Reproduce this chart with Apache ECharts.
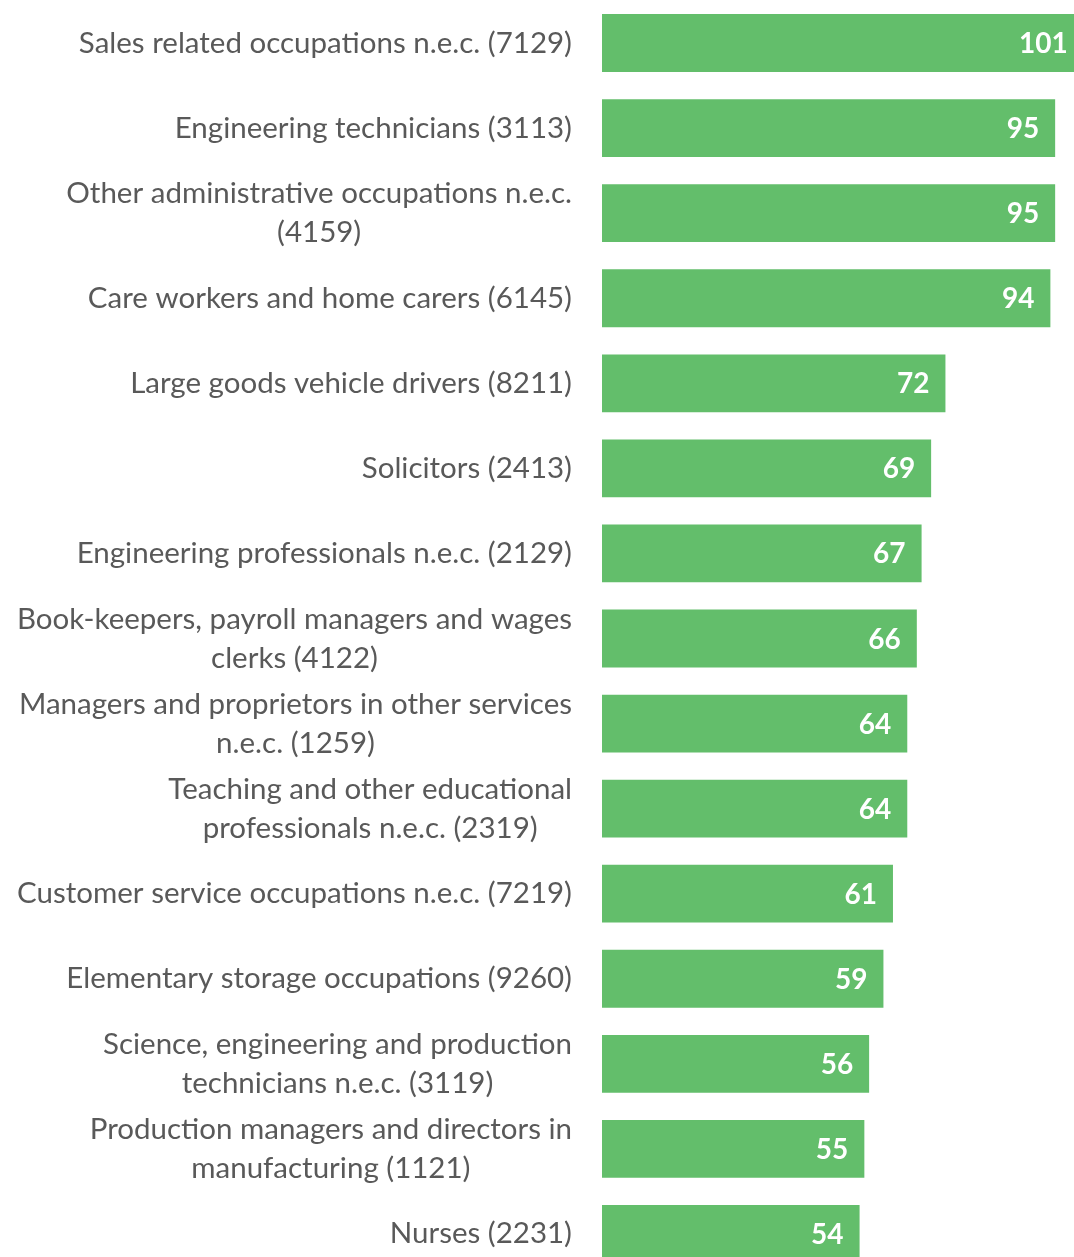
<!DOCTYPE html>
<html>
<head>
<meta charset="utf-8">
<script src="https://cdn.jsdelivr.net/npm/echarts@6/dist/echarts.min.js"></script>
<style>
html,body{margin:0;padding:0;background:#fff;}
#chart{width:1074px;height:1257px;}
</style>
</head>
<body>
<div id="chart"></div>
<script>
const categories = [
  "Sales related occupations n.e.c. (7129)",
  "Engineering technicians (3113)",
  "Other administrative occupations n.e.c.\n(4159)",
  "Care workers and home carers (6145)",
  "Large goods vehicle drivers (8211)",
  "Solicitors (2413)",
  "Engineering professionals n.e.c. (2129)",
  "Book-keepers, payroll managers and wages\nclerks (4122)",
  "Managers and proprietors in other services\nn.e.c. (1259)",
  "Teaching and other educational\nprofessionals n.e.c. (2319)",
  "Customer service occupations n.e.c. (7219)",
  "Elementary storage occupations (9260)",
  "Science, engineering and production\ntechnicians n.e.c. (3119)",
  "Production managers and directors in\nmanufacturing (1121)",
  "Nurses (2231)"
];
const values = [101, 95, 95, 94, 72, 69, 67, 66, 64, 64, 61, 59, 56, 55, 54];

const chart = echarts.init(document.getElementById('chart'), null, {renderer: 'canvas'});
const FONT = 'Lato, "Liberation Sans", sans-serif';
chart.setOption({
  animation: false,
  backgroundColor: '#ffffff',
  grid: {left: 602, top: 0.5, width: 524.7, height: 1276, containLabel: false, outerBoundsMode: 'none'},
  xAxis: {
    type: 'value', min: 0, max: 110,
    show: false
  },
  yAxis: {
    type: 'category', inverse: true, data: categories,
    axisLine: {show: false}, axisTick: {show: false}, splitLine: {show: false},
    axisLabel: {
      margin: 30, align: 'right',
      formatter: function (v) {
        return v.split('\n').map(function (s) { return '{c|' + s + '}'; }).join('\n');
      },
      rich: {
        c: {align: 'center', fontSize: 29.5, color: '#595959', fontFamily: FONT, lineHeight: 39}
      }
    }
  },
  series: [{
    type: 'bar', data: values,
    barCategoryGap: '32%',
    itemStyle: {color: '#63BE6B'},
    label: {
      show: true, position: 'insideRight', distance: 16, offset: [0, 1],
      color: '#ffffff', fontWeight: 'bold', fontSize: 28, fontFamily: FONT
    }
  }]
});
</script>
</body>
</html>
